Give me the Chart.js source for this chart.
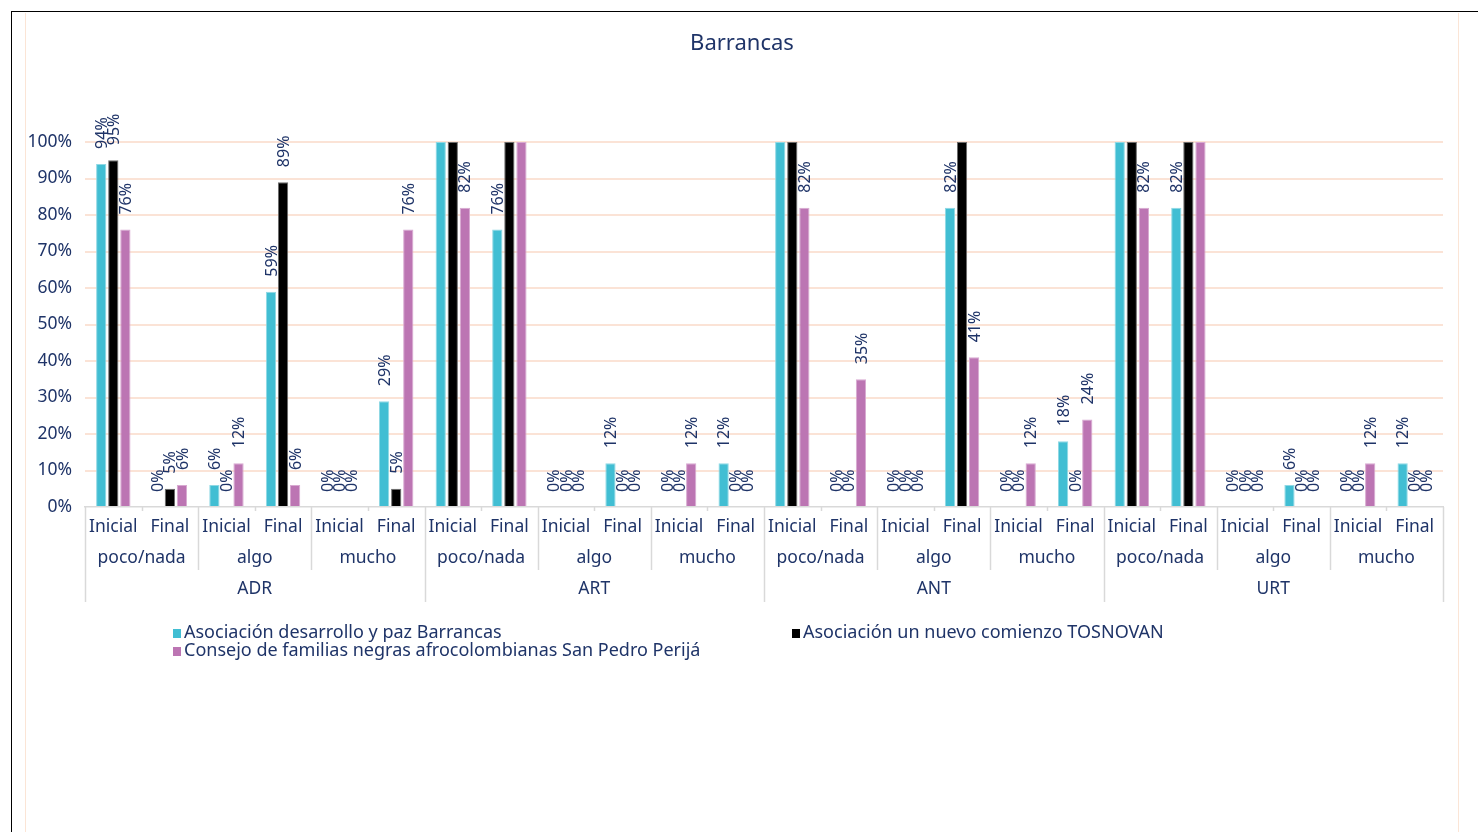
<!DOCTYPE html>
<html>
<head>
<meta charset="utf-8">
<script src="https://cdn.jsdelivr.net/npm/chart.js@4.4.1/dist/chart.umd.min.js"></script>
<style>
  html, body { margin: 0; padding: 0; background: #fff; overflow: hidden; }
  #wrap { position: relative; width: 1478px; height: 832px; }
  .outer { position: absolute; left: 11px; top: 11px; width: 1470px; height: 830px;
           border-top: 1px solid #000; border-left: 1px solid #000; }
  .inner { position: absolute; left: 25px; top: 13px; width: 1432px; height: 830px;
           border-left: 1px solid #fbe5d6; border-right: 1px solid #fbe5d6; }
  canvas { position: absolute; left: 0; top: 0; }
</style>
</head>
<body>
<div id="wrap">
  <div class="outer"></div>
  <div class="inner"></div>
  <canvas id="chart"></canvas>
</div>
<script>
const groups = ['ADR', 'ART', 'ANT', 'URT']
const levels = ['poco/nada', 'algo', 'mucho']
const stages = ['Inicial', 'Final']

const seriesNames = [
  'Asociación desarrollo y paz Barrancas',
  'Asociación un nuevo comienzo TOSNOVAN',
  'Consejo de familias negras afrocolombianas San Pedro Perijá'
]
const barrancas = [94, 0, 6, 59, 0, 29, 100, 76, 0, 12, 0, 12, 100, 0, 0, 82, 0, 18, 100, 82, 0, 6, 0, 12]
const tosnovan  = [95, 5, 0, 89, 0, 5, 100, 100, 0, 0, 0, 0, 100, 0, 0, 100, 0, 0, 100, 100, 0, 0, 0, 0]
const consejo   = [76, 6, 12, 6, 0, 76, 82, 100, 0, 0, 12, 0, 82, 35, 0, 41, 12, 24, 82, 100, 0, 0, 12, 0]

const yTicks = [0, 10, 20, 30, 40, 50, 60, 70, 80, 90, 100]

const NAVY = '#1f3468'
const FONT = "'Noto Sans', sans-serif"
const colors = ['#41bed3', '#000000', '#bc75b3']
const borders = ['#8fd8e4', '#6b6b6b', '#d8a9d1']

const labels = []
groups.forEach(g => levels.forEach(l => stages.forEach(s => labels.push([s, l, g]))))

// value labels, rotated, above each bar
const valueLabels = {
  id: 'valueLabels',
  afterDatasetsDraw(chart) {
    const ctx = chart.ctx
    ctx.save()
    ctx.font = '16px ' + FONT
    ctx.fillStyle = NAVY
    ctx.textAlign = 'left'
    ctx.textBaseline = 'middle'
    chart.data.datasets.forEach((ds, i) => {
      chart.getDatasetMeta(i).data.forEach((bar, j) => {
        const v = ds.data[j]
        if (v >= 100) return
        ctx.save()
        ctx.translate(bar.x + 1, bar.y - 15)
        ctx.rotate(-Math.PI / 2)
        ctx.fillText(v + '%', 0, 0)
        ctx.restore()
      })
    })
    ctx.restore()
  }
}

// title, multi-level category axis and legend
const decorations = {
  id: 'decorations',
  afterDraw(chart) {
    const ctx = chart.ctx
    const area = chart.chartArea
    const x = chart.scales.x
    const catW = (area.right - area.left) / labels.length
    const bottom = area.bottom

    ctx.save()
    ctx.fillStyle = NAVY
    ctx.textAlign = 'center'
    ctx.textBaseline = 'middle'
    ctx.font = '22px ' + FONT
    ctx.fillText('Barrancas', 742, 44)

    // separators
    ctx.strokeStyle = '#d9d9d9'
    ctx.lineWidth = 1.5
    for (let k = 0; k <= groups.length * levels.length; k++) {
      const px = Math.round(area.left + k * catW * 2) + 0.5
      ctx.beginPath()
      ctx.moveTo(px, bottom)
      ctx.lineTo(px, bottom + (k % levels.length === 0 ? 95 : 63))
      ctx.stroke()
      if (k < groups.length * levels.length) {
        const mx = Math.round(area.left + (2 * k + 1) * catW) + 0.5
        ctx.beginPath()
        ctx.moveTo(mx, bottom)
        ctx.lineTo(mx, bottom + 4)
        ctx.stroke()
      }
    }

    ctx.font = '17.5px ' + FONT
    labels.forEach((lab, j) => {
      ctx.fillText(lab[0], x.getPixelForValue(j), bottom + 20)
    })
    for (let k = 0; k < groups.length * levels.length; k++) {
      const cx = (x.getPixelForValue(2 * k) + x.getPixelForValue(2 * k + 1)) / 2
      ctx.fillText(levels[k % levels.length], cx, bottom + 51)
    }
    groups.forEach((g, gi) => {
      const n = levels.length * stages.length
      const cx = (x.getPixelForValue(gi * n) + x.getPixelForValue(gi * n + n - 1)) / 2
      ctx.fillText(g, cx, bottom + 82)
    })

    // legend
    const items = [
      { i: 0, x: 173, y: 633 },
      { i: 1, x: 792, y: 633 },
      { i: 2, x: 173, y: 651 }
    ]
    ctx.textAlign = 'left'
    ctx.font = '18px ' + FONT
    items.forEach(it => {
      ctx.fillStyle = colors[it.i]
      ctx.fillRect(it.x, it.y - 4, 8, 9)
      ctx.fillStyle = NAVY
      ctx.fillText(chart.data.datasets[it.i].label, it.x + 11, it.y)
    })
    ctx.restore()
  }
}

new Chart(document.getElementById('chart'), {
  type: 'bar',
  data: {
    labels: labels,
    datasets: [barrancas, tosnovan, consejo].map((d, i) => ({
      label: seriesNames[i],
      data: d,
      backgroundColor: colors[i],
      borderColor: borders[i],
      borderWidth: 1,
      barPercentage: 0.85,
      categoryPercentage: 0.64
    }))
  },
  options: {
    responsive: true,
    maintainAspectRatio: false,
    animation: false,
    layout: {
      padding: { top: 142, left: 25, right: 35, bottom: 325 }
    },
    plugins: {
      legend: { display: false },
      title: { display: false },
      tooltip: { enabled: false }
    },
    scales: {
      x: {
        grid: { display: false },
        border: { display: true, color: '#d9d9d9', width: 1.5 },
        ticks: { display: false },
        afterFit(scale) { scale.height = 0 }
      },
      y: {
        min: 0,
        max: 100,
        afterBuildTicks(scale) { scale.ticks = yTicks.map(v => ({ value: v })) },
        afterFit(scale) { scale.width = 60 },
        border: { display: false },
        grid: {
          color: ctx => ctx.tick.value === 0 ? 'rgba(0,0,0,0)' : '#fbe3d6',
          lineWidth: 2,
          drawTicks: false
        },
        ticks: {
          padding: 13,
          color: NAVY,
          font: { family: FONT, size: 17.5 },
          callback: v => v + '%'
        }
      }
    }
  },
  plugins: [valueLabels, decorations]
})
</script>
</body>
</html>
